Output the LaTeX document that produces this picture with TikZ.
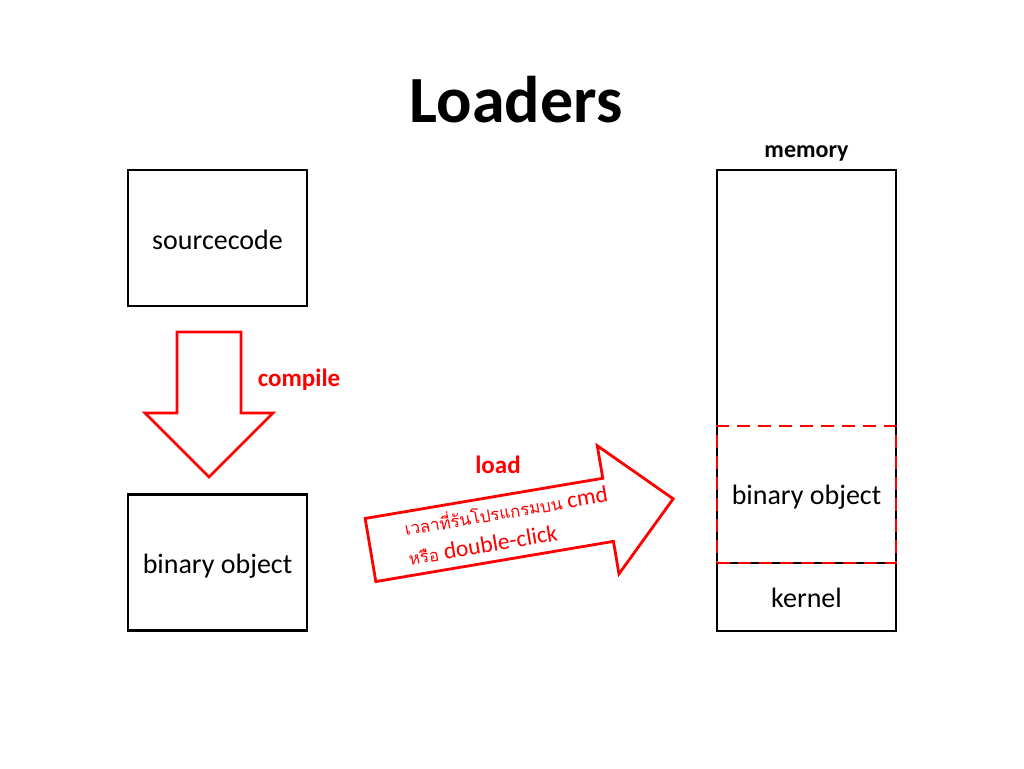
\documentclass[tikz,border=0pt]{standalone}
\usepackage{fontspec}
\setmainfont{Carlito}
\newfontfamily\thaifont[Script=Thai,Scale=0.72]{Loma}
\begin{document}
\begin{tikzpicture}[x=1pt, y=1pt,
        box/.style={draw, line width=2.8pt, minimum width=179pt, minimum height=136pt,
            inner sep=0pt, text height=25pt, text depth=3pt, font=\fontsize{28}{34}\selectfont},
        bigarrow/.style={draw=red, line width=2.8pt, line join=miter, fill=white},
        redlbl/.style={text=red, font=\fontsize{25}{30}\selectfont\bfseries},
        cmdline/.style={anchor=base west, text=red, transform shape, inner sep=0pt,
            font=\fontsize{23.5}{30}\selectfont}
    ]
    \useasboundingbox (0,0) rectangle (1024,-768);

    \node[font=\fontsize{66}{70}\selectfont\bfseries] (title) at (516,-100) {Loaders};

    \node[box] (src) at (217.5,-238) {sourcecode};
    \node[box] (bin) at (217.5,-562.5) {binary object};

    % memory column
    \node[box, minimum height=461pt] (mem) at (806.5,-400.5) {};
    \node[font=\fontsize{24}{28}\selectfont\bfseries, anchor=south] (memlbl) at ([yshift=4pt]mem.north) {memory};
    \node[minimum width=179pt, minimum height=68pt, inner sep=0pt, font=\fontsize{28}{34}\selectfont] (kernel) at (806.5,-598) {kernel};
    \draw[line width=2.8pt] (kernel.north west |- 0,-563) -- (kernel.north east |- 0,-563);
    \node[draw=red, line width=2.8pt, dash pattern=on 13pt off 8pt, minimum width=179pt, minimum height=137pt,
        inner sep=0pt, font=\fontsize{28}{34}\selectfont] (memobj) at (806.5,-494.5) {};
    \node[font=\fontsize{28}{34}\selectfont] (memobjlbl) at (806.5,-497) {binary object};

    % compile
    \draw[bigarrow] (177,-332) -- (241,-332) -- (241,-413) -- (273,-413) -- (209,-477)
        -- (145,-413) -- (177,-413) -- cycle;
    \node[redlbl] (compile) at (299,-380) {compile};

    % load
    \begin{scope}[shift={(370.5,-550)}, rotate=9.6]
        \draw[bigarrow] (0,32) -- (241,32) -- (241,65) -- (307,0) -- (241,-65) -- (241,-32)
            -- (0,-32) -- cycle;
        \node[cmdline] (cmd1) at (37,8) {{\thaifont เวลาที่รันโปรแกรมบน} cmd};
        \node[cmdline] (cmd2) at (36,-22) {{\thaifont หรือ} double-click};
    \end{scope}
    \node[redlbl] (load) at (498,-465) {load};
\end{tikzpicture}
\end{document}
